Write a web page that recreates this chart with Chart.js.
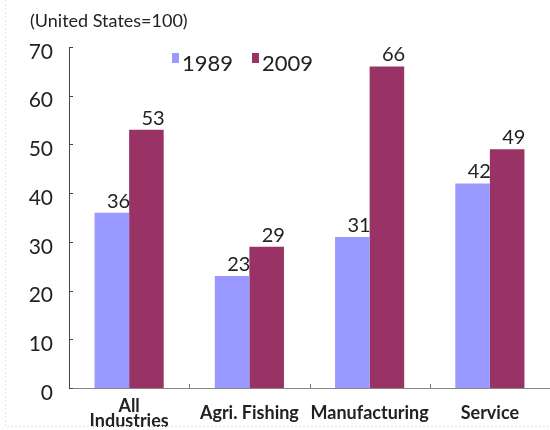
<!DOCTYPE html>
<html>
<head>
<meta charset="utf-8">
<script src="https://cdn.jsdelivr.net/npm/chart.js@4.4.1/dist/chart.umd.min.js"></script>
<style>
    html, body { margin: 0; padding: 0; background: #fff; }
    #wrap { width: 550px; height: 430px; position: relative; }
</style>
</head>
<body>
<div id="wrap"><canvas id="chart" width="550" height="430"></canvas></div>
<script>
// Labour productivity index by industry
const categories = [['All', 'Industries'], 'Agri. Fishing', 'Manufacturing', 'Service'];
const seriesNames = ['1989', '2009'];
const values1989 = [36, 23, 31, 42];
const values2009 = [53, 29, 66, 49];
const yMax = 70;
const yStep = 10;
const noteText = '(United States=100)';

const COLOR_1989 = '#9999ff';
const COLOR_2009 = '#993366';
const FONT = 'Lato, "Open Sans", sans-serif';

// Title note, legend, faint frame
const decorPlugin = {
    id: 'decor',
    afterDraw(chart) {
        const ctx = chart.ctx;
        ctx.save();

        // dotted frame line (left + bottom)
        ctx.strokeStyle = '#e4e4e4';
        ctx.lineWidth = 1;
        ctx.setLineDash([2, 2]);
        ctx.beginPath();
        ctx.moveTo(5.5, 0);
        ctx.lineTo(5.5, 426.5);
        ctx.lineTo(550, 426.5);
        ctx.stroke();
        ctx.setLineDash([]);

        ctx.fillStyle = '#222';
        ctx.font = '18px ' + FONT;
        ctx.textAlign = 'left';
        ctx.textBaseline = 'middle';
        ctx.fillText(noteText, 30, 21);

        // legend
        ctx.font = '22px ' + FONT;
        let x = 172;
        chart.data.datasets.forEach((ds, i) => {
            ctx.fillStyle = ds.backgroundColor;
            ctx.fillRect(x, 53, 7, 10);
            ctx.fillStyle = '#222';
            ctx.fillText(ds.label, x + 10, 64);
            x += 80;
        });
        ctx.restore();
    }
};

// Small inward tick marks on both axes
const innerTicksPlugin = {
    id: 'innerTicks',
    afterDraw(chart) {
        const ctx = chart.ctx;
        const xs = chart.scales.x;
        const ys = chart.scales.y;
        const area = chart.chartArea;
        ctx.save();
        ctx.lineWidth = 1;
        ctx.strokeStyle = '#444';
        ctx.beginPath();
        ys.ticks.forEach(t => {
            const py = Math.round(ys.getPixelForValue(t.value)) + 0.5;
            ctx.moveTo(area.left, py);
            ctx.lineTo(area.left + 4, py);
        });
        ctx.stroke();
        ctx.strokeStyle = '#777';
        ctx.beginPath();
        for (let i = 0; i < categories.length - 1; i++) {
            const px = Math.round((xs.getPixelForValue(i) + xs.getPixelForValue(i + 1)) / 2) + 0.5;
            ctx.moveTo(px, area.bottom);
            ctx.lineTo(px, area.bottom - 4);
        }
        ctx.stroke();
        ctx.restore();
    }
};

// Value labels above each bar
const valueLabelPlugin = {
    id: 'valueLabels',
    afterDatasetsDraw(chart) {
        const ctx = chart.ctx;
        ctx.save();
        ctx.font = '20px ' + FONT;
        ctx.fillStyle = '#222';
        ctx.textAlign = 'right';
        ctx.textBaseline = 'alphabetic';
        chart.data.datasets.forEach((ds, i) => {
            chart.getDatasetMeta(i).data.forEach((bar, j) => {
                ctx.fillText(String(ds.data[j]), bar.x + bar.width / 2 + 1, bar.y - 5);
            });
        });
        ctx.restore();
    }
};

new Chart(document.getElementById('chart'), {
    type: 'bar',
    data: {
        labels: categories,
        datasets: [
            { label: seriesNames[0], data: values1989, backgroundColor: COLOR_1989 },
            { label: seriesNames[1], data: values2009, backgroundColor: COLOR_2009 }
        ]
    },
    options: {
        responsive: false,
        animation: false,
        devicePixelRatio: 1,
        layout: { padding: { top: 47, left: 0, right: 0, bottom: 0 } },
        datasets: {
            bar: { categoryPercentage: 0.575, barPercentage: 1.0, borderWidth: 0 }
        },
        plugins: {
            legend: { display: false },
            title: { display: false },
            tooltip: { enabled: false }
        },
        scales: {
            x: {
                afterFit(scale) { scale.height = 42; },
                grid: { display: false, drawTicks: false },
                border: { display: true, color: '#888', width: 1 },
                ticks: {
                    color: '#222',
                    font: { family: FONT, size: 18, weight: 'bold', lineHeight: 0.85 },
                    padding: 18,
                    crossAlign: 'center',
                    maxRotation: 0,
                    autoSkip: false
                }
            },
            y: {
                min: 0,
                max: yMax,
                afterFit(scale) { scale.width = 69; },
                grid: { display: false, drawTicks: false },
                border: { display: true, color: '#444', width: 1 },
                ticks: {
                    stepSize: yStep,
                    color: '#222',
                    font: { family: FONT, size: 21 },
                    padding: 16,
                    labelOffset: 5
                }
            }
        }
    },
    plugins: [decorPlugin, innerTicksPlugin, valueLabelPlugin]
});
</script>
</body>
</html>
